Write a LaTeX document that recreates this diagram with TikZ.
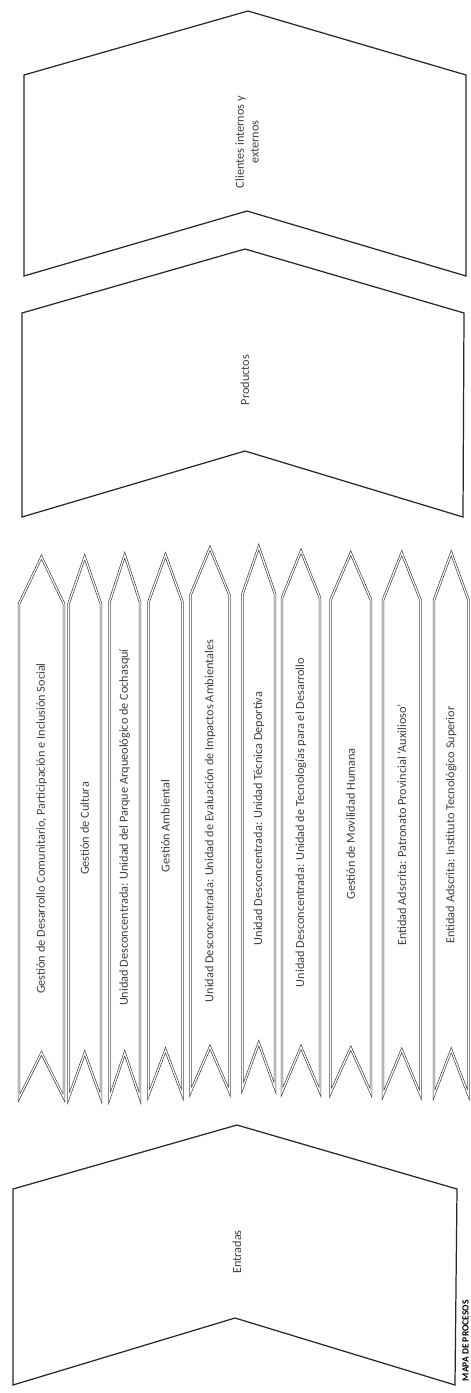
\documentclass[tikz,border=0pt]{standalone}
\usepackage{fontspec}
\setmainfont{Carlito}
\usetikzlibrary{positioning}

\begin{document}
\begin{tikzpicture}[x=0.02cm, y=-0.02cm,
  bigchev/.style={draw=black!85, line width=0.7pt, line join=miter},
  strip/.style={draw=black!80, line width=0.35pt, double=white, double distance=0.7pt},
  lbl/.style={rotate=90, font=\fontsize{7}{8.4}\selectfont, text=black!75, align=center, inner sep=1pt}
]
  \useasboundingbox (0,0) rectangle (470,1393);

  % clientes, productos, entradas
  \draw[bigchev] (24,75) -- (248,11) -- (466,75) -- (466,276) -- (247,211) -- (24,276) -- cycle;
  \draw[bigchev] (22,313) -- (245,249) -- (464,313) -- (463,517) -- (245,451) -- (22,517) -- cycle;
  \draw[bigchev] (13,1189) -- (237,1125) -- (457,1189) -- (455,1385) -- (235,1318) -- (13,1385) -- cycle;

  \node[lbl] (clientes) at (247,142) {Clientes internos y\\externos};
  \node[lbl] (productos) at (245,380) {Productos};
  \node[lbl] (entradas) at (237,1252) {Entradas};

  % procesos
  \foreach \l/\r/\a/\b/\t [count=\i] in {
    19/64/557/1098/{Gestión de Desarrollo Comunitario, Participación e Inclusión Social},
    68.5/101/557/1098/{Gestión de Cultura},
    109.5/140/555/1098/{Unidad Desconcentrada: Unidad del Parque Arqueológico de Cochasquí},
    148.5/182.5/555/1095/{Gestión Ambiental},
    190.5/229.5/548/1092/{Unidad Desconcentrada: Unidad de Evaluación de Impactos Ambientales},
    242.5/275/547/1088/{Unidad Desconcentrada: Unidad Técnica Deportiva},
    282/320/551/1092/{Unidad Desconcentrada: Unidad de Tecnologías para el Desarrollo},
    330.5/371/553/1093/{Gestión de Movilidad Humana},
    383/420.5/553/1095/{Entidad Adscrita: Patronato Provincial ‘Auxilioso’},
    434/468.5/553/1095/{Entidad Adscrita: Instituto Tecnológico Superior}}{
    \pgfmathsetmacro\m{(\l+\r)/2}
    \draw[strip] (\l,\a+47) -- (\m,\a) -- (\r,\a+47) -- (\r,\b) -- (\m,\b-45) -- (\l,\b) -- cycle;
    \node[lbl] (proc\i) at (\m,{(\a+\b)/2+1}) {\t};
  }

  \node[rotate=90, anchor=east, font=\fontsize{5.4}{6.5}\selectfont\bfseries, inner sep=0pt] (titulo) at (465.5,1300) {MAPA DE PROCESOS};
\end{tikzpicture}
\end{document}
